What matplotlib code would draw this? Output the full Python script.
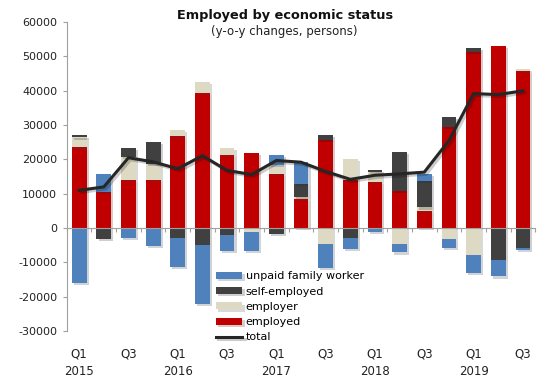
import numpy as np
import matplotlib
matplotlib.use('Agg')
import matplotlib.pyplot as plt
import matplotlib.patheffects as pe
from matplotlib.ticker import FixedLocator, FuncFormatter

# quarterly y-o-y changes, Q1 2015 .. Q3 2019
labels = ["Q1\n2015", "", "Q3", "", "Q1\n2016", "", "Q3", "", "Q1\n2017", "", "Q3", "",
          "Q1\n2018", "", "Q3", "", "Q1\n2019", "", "Q3"]
employed = [23500, 10400, 13900, 13900, 26700, 39300, 21400, 21900, 15700, 8400,
            25800, 14100, 13400, 10700, 5000, 29600, 51300, 53000, 45800]
employer = [2900, 0, 6800, 4800, 1900, 3400, 2000, -1000, 2600, 700,
            -4600, 6100, 3000, -4600, 1000, -3300, -7800, 0, 500]
self_employed = [600, -3300, 2700, 6300, -3000, -5000, -2000, 0, -1700, 3700,
                 1400, -3000, 500, 11600, 7600, 2700, 1300, -9300, -5700]
unpaid = [-15900, 5500, -3000, -5200, -8400, -17000, -4700, -5600, 3100, 6400,
          -7100, -3200, -1000, -2500, 2300, -2400, -5200, -4800, -700]
total = [11000, 12000, 20500, 19300, 17300, 21100, 16800, 15600, 19700, 19200,
         16500, 14200, 15400, 15800, 16300, 25500, 39200, 38900, 40000]

series = [("employed", employed, "#C00000"),
          ("employer", employer, "#DDD9C3"),
          ("self-employed", self_employed, "#404040"),
          ("unpaid family worker", unpaid, "#4F81BD")]

fig = plt.figure(figsize=(5.39, 3.89), dpi=100)
ax = fig.add_axes([0.124, 0.149, 0.869, 0.794])

x = np.arange(len(labels))
pos_base = np.zeros(len(x))
neg_base = np.zeros(len(x))
shadow = [pe.SimplePatchShadow(offset=(1.5, -1.5), alpha=0.2), pe.Normal()]
handles = {}
for name, vals, col in series:
    v = np.array(vals, dtype=float)
    bottom = np.where(v >= 0, pos_base, neg_base)
    bars = ax.bar(x, v, 0.6, bottom=bottom, color=col, label=name, zorder=2)
    for b in bars:
        b.set_path_effects(shadow)
    handles[name] = bars
    pos_base += np.where(v >= 0, v, 0)
    neg_base += np.where(v < 0, v, 0)

line, = ax.plot(x, total, color="#262626", lw=2.2, label="total", zorder=4,
                path_effects=[pe.SimpleLineShadow(offset=(1.5, -1.5), alpha=0.2), pe.Normal()])

ax.set_xlim(-0.5, len(x) - 0.5)
ax.set_ylim(-30000, 60000)
ax.yaxis.set_major_locator(FixedLocator(np.arange(-30000, 60001, 10000)))
ax.yaxis.set_major_formatter(FuncFormatter(lambda v, p: "%d" % v))
ax.tick_params(axis='y', labelsize=8, length=3, color="#A0A0A0", pad=4, labelcolor="#222222")

# category axis runs along zero, labels sit below the plot
for s in ["top", "right"]:
    ax.spines[s].set_visible(False)
ax.spines["left"].set_color("#A0A0A0")
ax.spines["bottom"].set_position(("data", 0))
ax.spines["bottom"].set_color("#A0A0A0")
ax.spines["bottom"].set_zorder(3)
ax.set_xticks(np.arange(-0.5, len(x), 1.0))
ax.set_xticklabels([])
ax.tick_params(axis='x', length=3, color="#A0A0A0")

sec = ax.secondary_xaxis(0)
sec.set_xticks(x)
sec.set_xticklabels(labels, fontsize=8.5, color="#222222", linespacing=1.45)
sec.tick_params(length=0, pad=12)
sec.spines["bottom"].set_visible(False)

leg_h = [handles["unpaid family worker"], handles["self-employed"],
         handles["employer"], handles["employed"], line]
leg_l = ["unpaid family worker", "self-employed", "employer", "employed", "total"]
ax.legend(leg_h, leg_l, loc="upper left", bbox_to_anchor=(0.318, 0.193), frameon=False,
          fontsize=8, handlelength=2.4, handleheight=0.6, handletextpad=0.3,
          labelspacing=0.47, borderpad=0, borderaxespad=0)

fig.text(0.528, 0.959, "Employed by economic status", ha="center", va="center",
         fontsize=9.3, fontweight="bold", color="#111111")
fig.text(0.528, 0.92, "(y-o-y changes, persons)", ha="center", va="center",
         fontsize=8.5, color="#222222")

fig.savefig("out.png", dpi=100)
